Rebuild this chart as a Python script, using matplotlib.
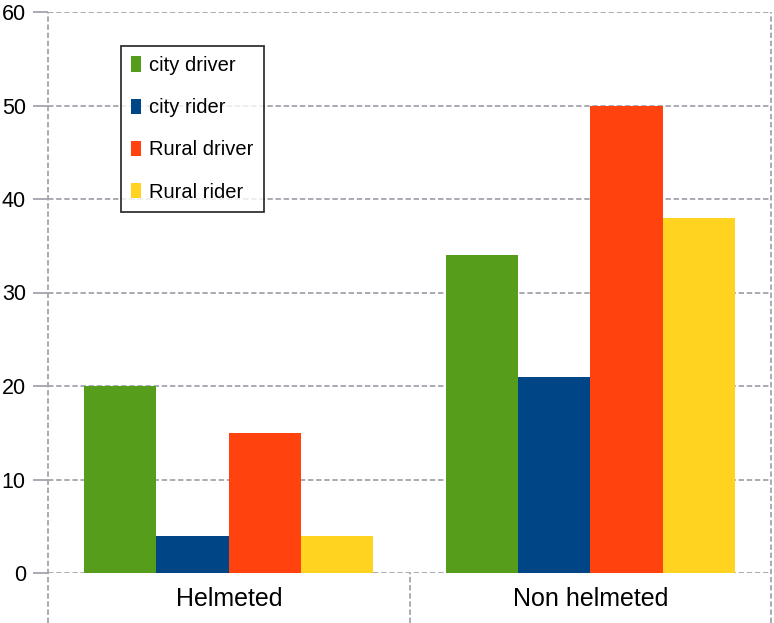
import numpy as np
import matplotlib
matplotlib.use("Agg")
import matplotlib.pyplot as plt
import matplotlib.transforms as mtransforms

# Data
categories = ["Helmeted", "Non helmeted"]
series = ["city driver", "city rider", "Rural driver", "Rural rider"]
city_driver = [20, 34]
city_rider = [4, 21]
rural_driver = [15, 50]
rural_rider = [4, 38]
colors = ["#579d1c", "#004586", "#ff420e", "#ffd320"]

plt.rcParams["font.family"] = ["Liberation Sans", "DejaVu Sans"]

fig = plt.figure(figsize=(7.74, 6.23), dpi=100)
W, H = 774, 623
ax = fig.add_axes([48 / W, (H - 573) / H, (771 - 48) / W, (573 - 12) / H])

x = np.arange(len(categories))
width = 0.2
values = [city_driver, city_rider, rural_driver, rural_rider]
for i, (name, vals) in enumerate(zip(series, values)):
    ax.bar(x + (i - 1.5) * width, vals, width, color=colors[i], label=name,
           zorder=3, linewidth=0)

ax.set_xlim(-0.5, len(categories) - 0.5)
ax.set_ylim(0, 60)
ax.set_yticks(range(0, 61, 10))
ax.set_xticks([])

grid_kw = dict(color="#a4a4ae", linestyle=(0, (3, 1.5)), linewidth=1.3)
ax.yaxis.grid(True, zorder=0, **grid_kw)
ax.tick_params(axis="y", length=11, width=1.3, color="#a4a4ae", pad=5,
               labelsize=15.5)
for s in ax.spines.values():
    s.set_visible(False)

# vertical separators: axis edges and between categories, down to figure bottom
trans = mtransforms.blended_transform_factory(ax.transData, ax.transAxes)
bottom = -(50 / 561)
for xs in [-0.5, 0.5, 1.5]:
    top = 1.0 if xs != 0.5 else 0.0
    ax.plot([xs, xs], [bottom, top], transform=trans, clip_on=False,
            zorder=1, **grid_kw)

for xi, cat in zip(x, categories):
    ax.text(xi, -0.046, cat, transform=trans, ha="center", va="center",
            fontsize=18)

leg = ax.legend(loc="upper left", bbox_to_anchor=(121 / W, 1 - 46 / H),
                bbox_transform=fig.transFigure, fontsize=14.5,
                frameon=True, fancybox=False, borderaxespad=0,
                handlelength=0.5, handleheight=0.8, handletextpad=0.4,
                labelspacing=1.15, borderpad=0.5)
leg.get_frame().set_edgecolor("black")
leg.get_frame().set_linewidth(1.3)

fig.savefig("out.png", dpi=100)
